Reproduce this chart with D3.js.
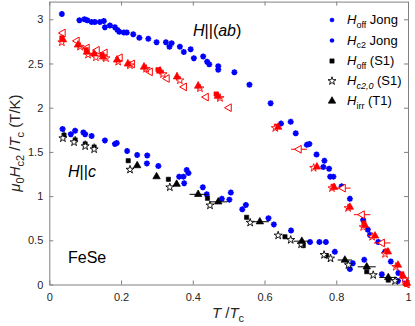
<!DOCTYPE html>
<html>
<head>
<meta charset="utf-8">
<script src="https://d3js.org/d3.v7.min.js"></script>
<style>
  body { margin: 0; background: #fff; }
  svg { display: block; font-family: "Liberation Sans", Arial, Helvetica, sans-serif; }
</style>
</head>
<body>
<div id="chart"></div>
<script>
// ---- data: [T/Tc, mu0Hc2/Tc] ----
// blue, Jong (H||ab)
const jongAb = [
  [0.035,3.06],[0.084,2.99],[0.098,3.00],[0.106,2.99],[0.118,2.97],[0.127,2.97],[0.141,2.97],
  [0.152,2.98],[0.155,2.91],[0.169,2.93],[0.183,2.91],[0.190,2.88],[0.195,2.86],[0.208,2.85],
  [0.216,2.85],[0.234,2.83],[0.251,2.79],[0.276,2.78],[0.299,2.74],[0.325,2.74],[0.335,2.69],
  [0.341,2.73],[0.364,2.69],[0.375,2.63],[0.394,2.66],[0.403,2.56],[0.429,2.58],[0.440,2.52],
  [0.446,2.49],[0.471,2.47],[0.471,2.43],[0.516,2.40],[0.558,2.26],[0.617,2.05],[0.646,1.82],
  [0.673,1.84],[0.687,1.71],[0.718,1.58],[0.725,1.59],[0.745,1.47],[0.767,1.40],[0.764,1.33],
  [0.780,1.31],[0.783,1.22],[0.792,1.22],[0.815,1.11],[0.838,0.97],[0.875,0.73],[0.888,0.62],
  [0.894,0.56],[0.917,0.48],[0.936,0.37],[0.952,0.26],[0.973,0.13],[0.992,0.05]
];
// blue, Jong (H||c)
const jongC = [
  [0.037,1.76],[0.060,1.70],[0.072,1.74],[0.095,1.72],[0.100,1.70],[0.118,1.68],[0.155,1.63],
  [0.183,1.59],[0.188,1.60],[0.217,1.51],[0.245,1.465],[0.273,1.46],[0.272,1.37],[0.304,1.34],
  [0.383,1.295],[0.388,1.26],[0.362,1.22],[0.374,1.22],[0.376,1.145],[0.428,1.10],[0.439,1.02],
  [0.481,0.97],[0.506,1.04],[0.502,0.96],[0.548,0.90],[0.538,0.85],[0.611,0.75],[0.626,0.68],
  [0.674,0.61],[0.727,0.48],[0.753,0.48],[0.771,0.48],[0.796,0.37],[0.846,0.24],[0.838,0.175],
  [0.878,0.28],[0.927,0.115],[0.972,0.04]
];
// red, H||ab
const abOff = [
  [0.035,2.79],[0.103,2.655],[0.147,2.60],[0.303,2.43],[0.465,2.155],[0.633,1.79],[0.791,1.11],
  [0.877,0.695],[0.941,0.38],[0.983,0.12],[0.995,0.0]
];
const abHc20 = [
  [0.035,2.74],[0.086,2.69],[0.108,2.60],[0.130,2.57],[0.158,2.56],[0.192,2.52],[0.225,2.48],
  [0.270,2.44],[0.317,2.38],[0.364,2.31],[0.420,2.22],[0.476,2.11],[0.630,1.77],[0.737,1.32],
  [0.788,1.09],[0.833,0.865],[0.875,0.65],[0.900,0.54],[0.936,0.345],[0.966,0.20],[0.991,0.06]
];
const abIrr = [
  [0.038,2.77],[0.080,2.71],[0.105,2.63],[0.125,2.61],[0.150,2.575],[0.189,2.54],[0.219,2.495],
  [0.264,2.46],[0.309,2.415],[0.356,2.35],[0.415,2.245],[0.470,2.13],[0.638,1.78],[0.746,1.33],
  [0.794,1.10],[0.838,0.875],[0.880,0.67],[0.908,0.55],[0.944,0.37],[0.972,0.22],[0.986,0.095],
  [0.997,0.015]
];
const abIrrErr = [0.05,0.05,0.05,0.05,0.05,0.05,0.05,0.05,0.05,0.05,0.05,0.05,0,0,0,0,0,0,0,0,0,0];
const abOpen = [
  [0.038,2.845],[0.077,2.755],[0.105,2.675],[0.133,2.65],[0.155,2.62],[0.197,2.565],[0.231,2.495],
  [0.281,2.405],[0.328,2.33],[0.376,2.235],[0.437,2.12],[0.501,2.00],[0.696,1.53],[0.819,1.09],
  [0.872,0.79],[0.928,0.47],[0.997,0.005]
];
const abOpenErr = [0,0,0,0,0,0,0,0,0,0,0,0,0.022,0.021,0.023,0.023,0];
// black, H||c
const cOff = [
  [0.041,1.69],[0.072,1.635],[0.100,1.59],[0.125,1.555],[0.220,1.40],[0.332,1.19],[0.441,0.975],
  [0.550,0.76],[0.657,0.54],[0.708,0.44],[0.773,0.325],[0.885,0.145],[0.945,0.05]
];
const cOffErr = [0.045,0.045,0.04,0.04,0,0,0,0,0,0,0,0,0];
const cHc20 = [
  [0.038,1.655],[0.069,1.61],[0.100,1.565],[0.125,1.53],[0.225,1.30],[0.336,1.10],[0.448,0.895],
  [0.560,0.70],[0.638,0.555],[0.673,0.505],[0.702,0.455],[0.766,0.335],[0.784,0.295],[0.834,0.22],
  [0.903,0.107],[0.964,0.04]
];
const cIrr = [
  [0.245,1.345],[0.299,1.22],[0.355,1.135],[0.415,1.02],[0.471,0.935],[0.587,0.71],[0.704,0.49],
  [0.824,0.277],[0.885,0.20],[0.945,0.08]
];
const cIrrErr = [0,0,0,0.024,0.025,0.025,0.023,0.02,0.025,0.025];

const xTicks = [0, 0.2, 0.4, 0.6, 0.8, 1];
const yTicks = [0, 0.5, 1, 1.5, 2, 2.5, 3];

const W = 415, H = 326;
const blue = "#0000ff", red = "#ff0000", black = "#000000";

const svg = d3.select("#chart").append("svg")
  .attr("width", W)
  .attr("height", H);

const x = d3.scaleLinear().domain([0, 1]).range([49.3, 408]);
const y = d3.scaleLinear().domain([0, 3.2]).range([284.5, 1.6]);

// axes (ticks inside, box all round)
const axisColor = "#808080";
const fmt = d3.format("~g");
function styleAxis(g, labels) {
  g.select(".domain").attr("stroke", axisColor);
  g.selectAll(".tick line").attr("stroke", axisColor);
  g.selectAll(".tick text")
    .attr("fill", "#262626")
    .attr("font-size", "11px")
    .style("display", labels ? null : "none");
}
svg.append("g").attr("transform", `translate(0,${y(0)})`)
  .call(d3.axisBottom(x).tickValues(xTicks).tickFormat(fmt).tickSize(-4).tickSizeOuter(0).tickPadding(9))
  .call(g => styleAxis(g, true));
svg.append("g").attr("transform", `translate(0,${y(3.2)})`)
  .call(d3.axisTop(x).tickValues(xTicks).tickSize(-4).tickSizeOuter(0))
  .call(g => styleAxis(g, false));
svg.append("g").attr("transform", `translate(${x(0)},0)`)
  .call(d3.axisLeft(y).tickValues(yTicks).tickFormat(fmt).tickSize(-4).tickSizeOuter(0).tickPadding(6))
  .call(g => styleAxis(g, true));
svg.append("g").attr("transform", `translate(${x(1)},0)`)
  .call(d3.axisRight(y).tickValues(yTicks).tickSize(-4).tickSizeOuter(0))
  .call(g => styleAxis(g, false));

// marker shapes
function asterisk(r) {
  const d = r * 0.7071;
  return `M${-r},0L${r},0M0,${-r}L0,${r}M${-d},${-d}L${d},${d}M${-d},${d}L${d},${-d}`;
}
const shapes = {
  ast: { path: asterisk(3), fill: "none", sw: 1.7, rot: 0 },
  square: { path: d3.symbol(d3.symbolSquare, 18)(), fill: "c", sw: 0.6, rot: 0 },
  star: { path: d3.symbol(d3.symbolStar, 20)(), fill: "#fff", sw: 0.9, rot: 0 },
  tri: { path: d3.symbol(d3.symbolTriangle, 24)(), fill: "c", sw: 0.7, rot: 0 },
  left: { path: d3.symbol(d3.symbolTriangle, 26)(), fill: "#fff", sw: 1, rot: -90 }
};

function drawErr(data, err, color, dir) {
  svg.append("g").selectAll("line")
    .data(data.map((d, i) => [d, err[i]]).filter(d => d[1] > 0))
    .join("line")
    .attr("x1", d => dir === "x" ? x(d[0][0] - d[1]) : x(d[0][0]))
    .attr("x2", d => dir === "x" ? x(d[0][0] + d[1]) : x(d[0][0]))
    .attr("y1", d => dir === "y" ? y(d[0][1] - d[1]) : y(d[0][1]))
    .attr("y2", d => dir === "y" ? y(d[0][1] + d[1]) : y(d[0][1]))
    .attr("stroke", color)
    .attr("stroke-width", 1);
}

function drawMarks(data, shape, color) {
  const s = shapes[shape];
  svg.append("g").selectAll("path")
    .data(data)
    .join("path")
    .attr("d", s.path)
    .attr("transform", d => `translate(${x(d[0])},${y(d[1])}) rotate(${s.rot})`)
    .attr("fill", s.fill === "c" ? color : s.fill)
    .attr("stroke", color)
    .attr("stroke-width", s.sw);
}

drawMarks(jongAb, "ast", blue);
drawMarks(jongC, "ast", blue);

drawErr(abIrr, abIrrErr, red, "y");
drawErr(abOpen, abOpenErr, red, "x");
drawMarks(abOpen, "left", red);
drawMarks(abOff, "square", red);
drawMarks(abHc20, "star", red);
drawMarks(abIrr, "tri", red);

drawErr(cOff, cOffErr, black, "y");
drawErr(cIrr, cIrrErr, black, "x");
drawMarks(cOff, "square", black);
drawMarks(cHc20, "star", black);
drawMarks(cIrr, "tri", black);

// rich text helper: parts = [text, italic, sub]
function rich(g, parts, base, subSize) {
  let shift = 0;
  parts.forEach(([t, it, sub]) => {
    const dy = (sub ? 3.5 : 0) - shift;
    shift = sub ? 3.5 : 0;
    g.append("tspan")
      .attr("dy", dy)
      .attr("font-style", it ? "italic" : "normal")
      .attr("font-size", sub ? subSize : base)
      .text(t);
  });
}

// legend
const legendItems = [
  { m: "ast", c: blue, parts: [["H", 1, 0], ["off", 0, 1], [" Jong", 0, 0]] },
  { m: "ast", c: blue, parts: [["H", 1, 0], ["c2", 0, 1], [" Jong", 0, 0]] },
  { m: "square", c: black, parts: [["H", 1, 0], ["off", 0, 1], [" (S1)", 0, 0]] },
  { m: "star", c: black, parts: [["H", 1, 0], ["c2,0", 1, 1], [" (S1)", 0, 0]] },
  { m: "tri", c: black, parts: [["H", 1, 0], ["irr", 0, 1], [" (T1)", 0, 0]] }
];
const legendY = [20, 40.5, 61, 81, 101];
legendItems.forEach((it, i) => {
  const s = shapes[it.m];
  const sc = it.m === "ast" ? 0.75 : 1;
  svg.append("path")
    .attr("d", s.path)
    .attr("transform", `translate(332,${legendY[i]}) scale(${sc})`)
    .attr("fill", s.fill === "c" ? it.c : s.fill)
    .attr("stroke", it.c)
    .attr("stroke-width", s.sw);
  const t = svg.append("text")
    .attr("x", 347)
    .attr("y", legendY[i] + 4)
    .attr("fill", "#000");
  rich(t, it.parts, "13px", "9px");
});

// annotations
const ab = svg.append("text").attr("x", 193).attr("y", 36).attr("font-size", "16px");
rich(ab, [["H", 1, 0], ["||(", 0, 0], ["ab", 1, 0], [")", 0, 0]], "16px", "11px");
const hc = svg.append("text").attr("x", 68).attr("y", 177).attr("font-size", "16px");
rich(hc, [["H", 1, 0], ["||", 0, 0], ["c", 1, 0]], "16px", "11px");
svg.append("text").attr("x", 68).attr("y", 263).attr("font-size", "16px").text("FeSe");

// axis labels
const xl = svg.append("text").attr("x", 228).attr("y", 318).attr("text-anchor", "middle").attr("fill", "#262626");
rich(xl, [["T", 1, 0], [" /", 0, 0], ["T", 1, 0], ["c", 0, 1]], "15px", "11px");

const yl = svg.append("text")
  .attr("transform", `translate(20,${(y(0) + y(3.2)) / 2}) rotate(-90)`)
  .attr("text-anchor", "middle")
  .attr("fill", "#262626");
rich(yl, [["μ", 1, 0], ["0", 0, 1], ["H", 1, 0], ["c2", 0, 1], [" /", 0, 0], ["T", 1, 0], ["c", 0, 1], [" (T/K)", 0, 0]], "15px", "11px");
</script>
</body>
</html>
